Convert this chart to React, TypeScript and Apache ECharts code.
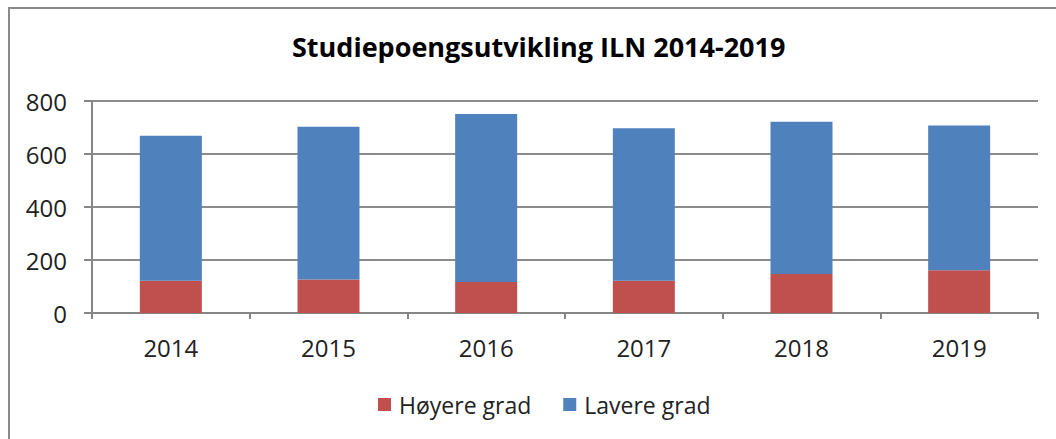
import React, { useEffect, useRef } from "react";
import * as echarts from "echarts";

const categories = ["2014", "2015", "2016", "2017", "2018", "2019"];
const hoyereGrad = [122, 126, 117, 122, 147, 161];
const lavereGrad = [547, 577, 634, 575, 575, 547];
const yTicks = [0, 200, 400, 600, 800];

const FONT = "'Open Sans', 'Noto Sans', sans-serif";

export default function App() {
  const ref = useRef<HTMLDivElement>(null);
  useEffect(() => {
    if (!ref.current) return;
    const chart = echarts.init(ref.current, undefined, { renderer: "svg" });
    chart.setOption({
      animation: false,
      backgroundColor: "transparent",
      title: {
        text: "Studiepoengsutvikling ILN 2014-2019",
        left: 287,
        top: 28,
        textStyle: { fontFamily: FONT, fontWeight: "bold", fontSize: 27, color: "#000" },
      },
      legend: {
        bottom: 18,
        left: 373,
        itemWidth: 13,
        itemHeight: 13,
        itemGap: 32,
        icon: "rect",
        textStyle: { fontFamily: FONT, fontSize: 23, color: "#222", padding: [0, 0, 0, 3] },
        data: ["Høyere grad", "Lavere grad"],
      },
      grid: { left: 92, right: 18, top: 101, bottom: 126, containLabel: false },
      xAxis: {
        type: "category",
        data: categories,
        axisLine: { lineStyle: { color: "#868686", width: 2 } },
        axisTick: { show: true, length: 6, lineStyle: { color: "#868686", width: 2 } },
        axisLabel: { fontFamily: FONT, fontSize: 24, color: "#222", margin: 22 },
      },
      yAxis: {
        type: "value",
        min: yTicks[0],
        max: yTicks[yTicks.length - 1],
        interval: 200,
        axisLine: { show: true, lineStyle: { color: "#868686", width: 2 } },
        axisTick: { show: true, length: 8, lineStyle: { color: "#868686", width: 2 } },
        axisLabel: { fontFamily: FONT, fontSize: 24, color: "#222", margin: 25 },
        splitLine: { lineStyle: { color: "#8c8c8c", width: 2 } },
      },
      series: [
        {
          name: "Høyere grad",
          type: "bar",
          stack: "total",
          barWidth: 62,
          itemStyle: { color: "#C0504D" },
          data: hoyereGrad,
        },
        {
          name: "Lavere grad",
          type: "bar",
          stack: "total",
          barWidth: 62,
          itemStyle: { color: "#4F81BD" },
          data: lavereGrad,
        },
      ],
    });
    return () => chart.dispose();
  }, []);
  return (
    <div style={{ position: "fixed", left: 0, top: 0, width: 1056, height: 439, overflow: "hidden", background: "#fff" }}>
      <div
        style={{
          position: "absolute",
          left: 8,
          top: 7,
          width: 1200,
          height: 600,
          border: "2px solid #8a8a8a",
        }}
      />
      <div ref={ref} style={{ position: "absolute", left: 0, top: 0, width: 1056, height: 439 }} />
    </div>
  );
}
